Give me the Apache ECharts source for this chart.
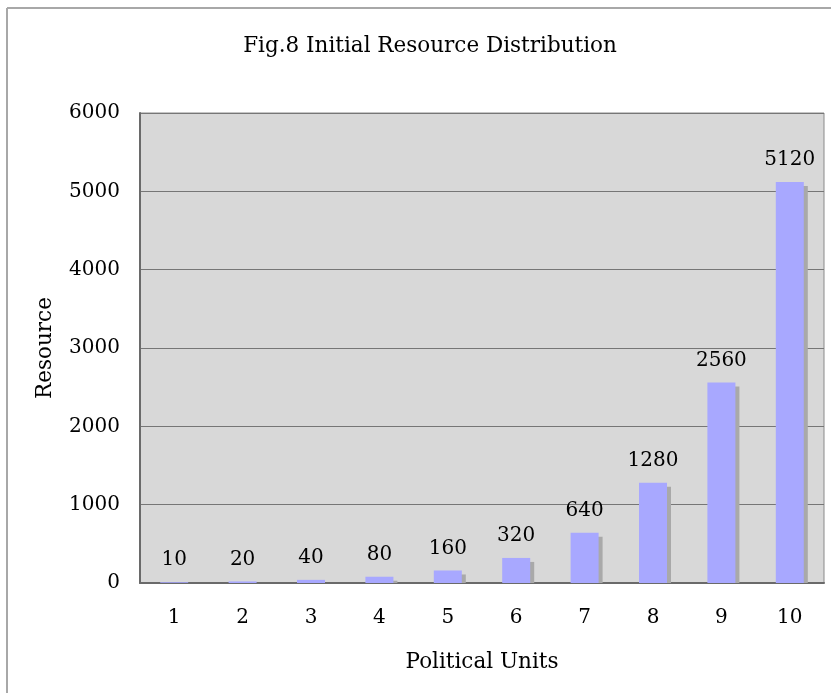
<!DOCTYPE html>
<html>
<head>
<meta charset="utf-8">
<script src="https://cdn.jsdelivr.net/npm/echarts@6/dist/echarts.min.js"></script>
<style>
  html, body { margin: 0; padding: 0; background: #ffffff; }
  #chart { width: 831px; height: 693px; }
</style>
</head>
<body>
<div id="chart"></div>
<script>
// Political units and their starting resource allocation
var units = ['1', '2', '3', '4', '5', '6', '7', '8', '9', '10'];
var resource = [10, 20, 40, 80, 160, 320, 640, 1280, 2560, 5120];
var yTicks = [0, 1000, 2000, 3000, 4000, 5000, 6000];

var FONT = 'DejaVu Serif';
var BAR_W = 28;
var SHADOW_OFF = 4;
var chart = echarts.init(document.getElementById('chart'), null, { renderer: 'canvas' });

// Drop shadow behind each bar: offset right/down, cut off at the baseline
function renderShadow(params, api) {
  var top = api.coord([api.value(0), api.value(1)]);
  var base = api.coord([api.value(0), 0]);
  var x = top[0] - BAR_W / 2 + SHADOW_OFF;
  var y = Math.min(top[1] + SHADOW_OFF, base[1]);
  return {
    type: 'rect',
    shape: { x: x, y: y, width: BAR_W, height: base[1] - y },
    style: { fill: '#a9a9a9' }
  };
}

var option = {
  backgroundColor: '#ffffff',
  animation: false,
  title: {
    text: 'Fig.8 Initial Resource Distribution',
    left: 425,
    top: 30,
    textAlign: 'center',
    textStyle: { fontFamily: FONT, fontSize: 21.5, fontWeight: 'normal', color: '#000' }
  },
  graphic: [
    // page frame (top and left edges)
    { type: 'line', shape: { x1: 7, y1: 8, x2: 831, y2: 8 }, style: { stroke: '#a8a8a8', lineWidth: 2 } },
    { type: 'line', shape: { x1: 7, y1: 8, x2: 7, y2: 693 }, style: { stroke: '#a8a8a8', lineWidth: 2 } }
  ],
  grid: {
    left: 140, right: 7, top: 113, bottom: 110,
    show: true,
    backgroundColor: '#d8d8d8',
    borderColor: '#8a8a8a',
    borderWidth: 1
  },
  xAxis: {
    type: 'category',
    data: units,
    name: 'Political Units',
    nameLocation: 'middle',
    nameGap: 68,
    nameTextStyle: { fontFamily: FONT, fontSize: 21.5, color: '#000' },
    axisLine: { lineStyle: { color: '#6a6a6a', width: 2 } },
    axisTick: { inside: true, length: 6, lineStyle: { color: '#6a6a6a' } },
    axisLabel: { fontFamily: FONT, fontSize: 20, color: '#000', margin: 25 }
  },
  yAxis: {
    type: 'value',
    min: yTicks[0],
    max: yTicks[yTicks.length - 1],
    interval: 1000,
    name: 'Resource',
    nameLocation: 'middle',
    nameGap: 84,
    nameRotate: 90,
    nameTextStyle: { fontFamily: FONT, fontSize: 21.5, color: '#000' },
    axisLine: { show: true, lineStyle: { color: '#6a6a6a', width: 2 } },
    axisTick: { show: false },
    axisLabel: {
      fontFamily: FONT, fontSize: 20, color: '#000', margin: 20,
      formatter: function (v) { return String(v); }
    },
    splitLine: { lineStyle: { color: '#767676', width: 1 } }
  },
  series: [
    {
      type: 'custom',
      renderItem: renderShadow,
      data: resource.map(function (v, i) { return [i, v]; }),
      encode: { x: 0, y: 1 },
      z: 1,
      silent: true
    },
    {
      type: 'bar',
      data: resource,
      barWidth: BAR_W,
      z: 2,
      itemStyle: { color: '#a8a8ff' },
      label: {
        show: true,
        position: 'top',
        distance: 12,
        fontFamily: FONT,
        fontSize: 20,
        color: '#000'
      }
    }
  ]
};

chart.setOption(option);
</script>
</body>
</html>
